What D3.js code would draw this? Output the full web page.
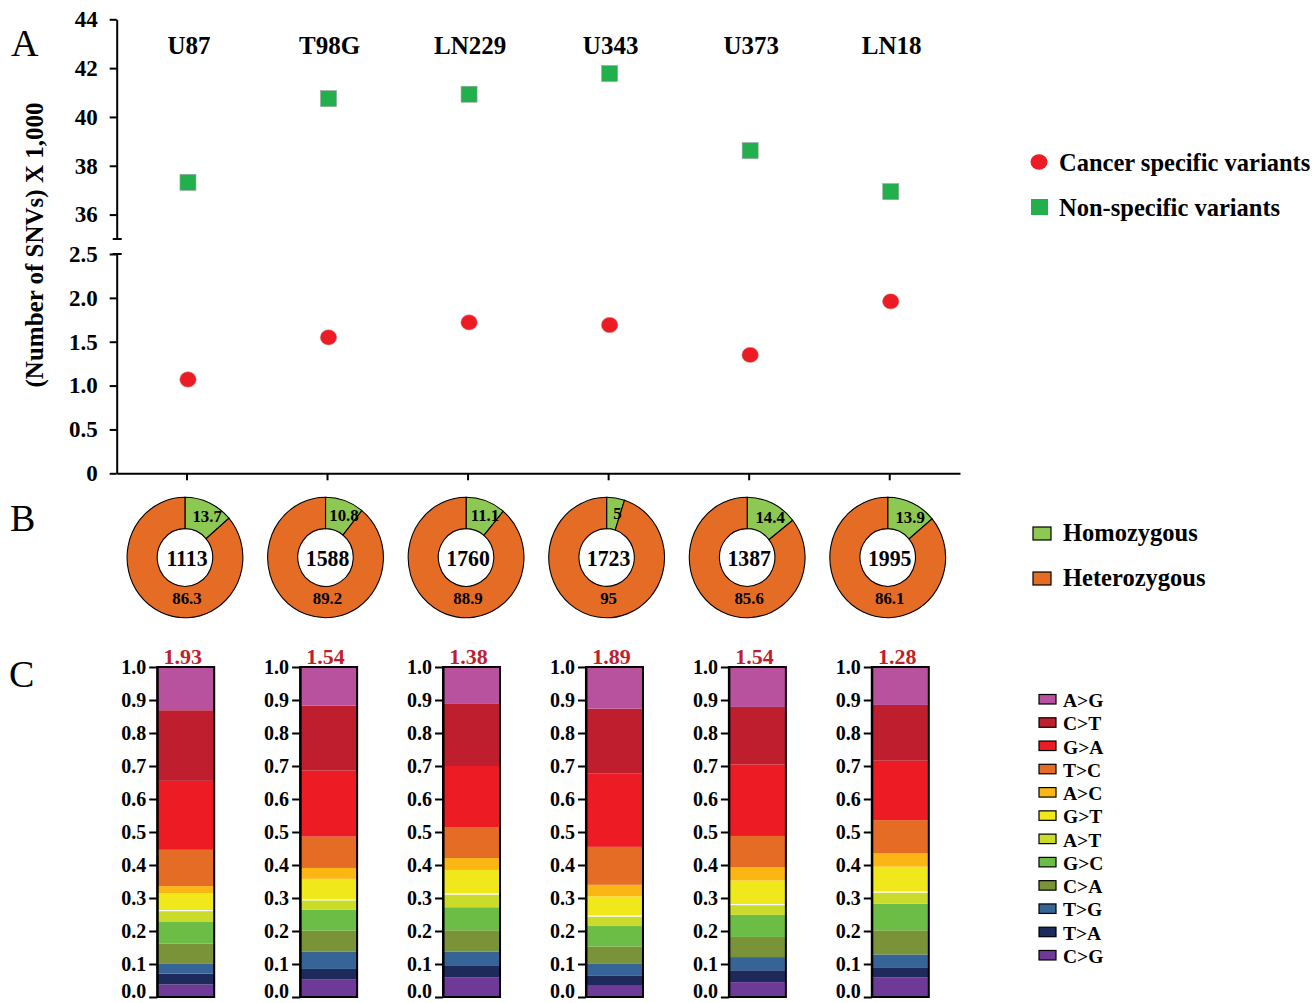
<!DOCTYPE html>
<html>
<head>
<meta charset="utf-8">
<script src="https://cdn.jsdelivr.net/npm/d3@7"></script>
<style>
  html, body { margin: 0; padding: 0; background: #fff; }
  svg text { font-family: "Liberation Serif", "Times New Roman", serif; }
</style>
</head>
<body>
<svg id="fig" width="1315" height="1003"></svg>
<script>
// ---- data ----
const cellLines = ["U87", "T98G", "LN229", "U343", "U373", "LN18"];

// Panel A: SNV counts (x 1,000)
const nonSpecific = [37.32, 40.75, 40.93, 41.78, 38.62, 36.94];
const cancerSpecific = [1.07, 1.55, 1.72, 1.69, 1.35, 1.96];
const upperTicks = [36, 38, 40, 42, 44];
const lowerTicks = [0, 0.5, 1.0, 1.5, 2.0, 2.5];

// Panel B: zygosity of cancer-specific variants (%)
const variantTotals = [1113, 1588, 1760, 1723, 1387, 1995];
const homozygousPct = [13.7, 10.8, 11.1, 5, 14.4, 13.9];
const heterozygousPct = [86.3, 89.2, 88.9, 95, 85.6, 86.1];

// Panel C: substitution spectrum (fractions), transition/transversion ratios
const ratioLabels = ["1.93", "1.54", "1.38", "1.89", "1.54", "1.28"];
const substitutions = ["A>G", "C>T", "G>A", "T>C", "A>C", "G>T", "A>T", "G>C", "C>A", "T>G", "T>A", "C>G"];
const fracAG = [0.131, 0.117, 0.110, 0.126, 0.121, 0.115];
const fracCT = [0.214, 0.197, 0.190, 0.196, 0.174, 0.169];
const fracGA = [0.209, 0.200, 0.185, 0.223, 0.217, 0.180];
const fracTC = [0.110, 0.095, 0.094, 0.115, 0.095, 0.101];
const fracAC = [0.021, 0.033, 0.036, 0.035, 0.040, 0.040];
const fracGT = [0.053, 0.064, 0.073, 0.060, 0.073, 0.077];
const fracAT = [0.033, 0.029, 0.040, 0.030, 0.031, 0.035];
const fracGC = [0.067, 0.064, 0.070, 0.062, 0.067, 0.081];
const fracCA = [0.060, 0.064, 0.064, 0.051, 0.061, 0.073];
const fracTG = [0.031, 0.052, 0.044, 0.038, 0.040, 0.041];
const fracTA = [0.033, 0.031, 0.034, 0.030, 0.036, 0.029];
const fracCG = [0.038, 0.054, 0.060, 0.034, 0.045, 0.059];
const fractionSeries = [fracAG, fracCT, fracGA, fracTC, fracAC, fracGT, fracAT, fracGC, fracCA, fracTG, fracTA, fracCG];
const cTicks = [0, 0.1, 0.2, 0.3, 0.4, 0.5, 0.6, 0.7, 0.8, 0.9, 1.0];

const subColors = {
  "A>G": "#b9529e", "C>T": "#be1e2d", "G>A": "#ed1c24", "T>C": "#e46c25",
  "A>C": "#fbb614", "G>T": "#f1e81b", "A>T": "#cbdb2a", "G>C": "#6bbd45",
  "C>A": "#7a9339", "T>G": "#376497", "T>A": "#1e2a5c", "C>G": "#6f3997"
};
const RED = "#ed1c24", GREEN = "#21b04b";
const HOMO = "#8dc853", HETERO = "#e46c25";

const svg = d3.select("#fig");

// ---- panel letters ----
svg.append("text").attr("x", 11).attr("y", 56).attr("font-size", 38).text("A");
svg.append("text").attr("x", 10).attr("y", 531).attr("font-size", 38).text("B");
svg.append("text").attr("x", 9).attr("y", 687).attr("font-size", 38).text("C");

// ---- Panel A: broken-axis dot plot ----
const axisX = 116.7;
const x = d3.scaleBand().domain(cellLines).range([axisX, 960]);
const cx = d => x(d) + x.bandwidth() / 2;
const yUp = d3.scaleLinear().domain([35, 44]).range([239, 19.3]);
const yLo = d3.scaleLinear().domain([0, 2.5]).range([473.3, 254]);

function styleAxis(g, fs) {
  g.selectAll("path.domain").attr("stroke", "#000").attr("stroke-width", 2);
  g.selectAll(".tick line").attr("stroke", "#000").attr("stroke-width", 2);
  g.selectAll(".tick text").attr("fill", "#000").attr("font-size", fs)
    .attr("font-weight", "bold").attr("font-family", "Liberation Serif, serif");
}

const gUp = svg.append("g").attr("transform", `translate(${axisX},0)`)
  .call(d3.axisLeft(yUp).tickValues(upperTicks).tickSize(7).tickPadding(12).tickSizeOuter(0));
styleAxis(gUp, 23);
const gLo = svg.append("g").attr("transform", `translate(${axisX},0)`)
  .call(d3.axisLeft(yLo).tickValues(lowerTicks).tickSize(7).tickPadding(12).tickSizeOuter(0)
    .tickFormat(d => d === 0 ? "0" : d3.format(".1f")(d)));
styleAxis(gLo, 23);

// break marks on the y axis
[yUp(35), yLo(2.5)].forEach(yy => {
  svg.append("line").attr("x1", axisX - 4).attr("x2", axisX + 5)
    .attr("y1", yy).attr("y2", yy).attr("stroke", "#000").attr("stroke-width", 2);
});

const gX = svg.append("g").attr("transform", `translate(0,${yLo(0)})`)
  .call(d3.axisBottom(x).tickSize(7).tickSizeOuter(0).tickFormat(""));
styleAxis(gX, 22);

// cell line names along the top
svg.append("g").selectAll("text").data(cellLines).join("text")
  .attr("x", d => cx(d) + 2).attr("y", 54)
  .attr("text-anchor", "middle").attr("font-size", 25).attr("font-weight", "bold")
  .text(d => d);

// y title
svg.append("text")
  .attr("transform", "translate(43,245) rotate(-90)")
  .attr("text-anchor", "middle").attr("font-size", 25).attr("font-weight", "bold")
  .text("(Number of SNVs) X 1,000");

// markers
svg.append("g").selectAll("rect").data(cellLines).join("rect")
  .attr("x", (d, i) => cx(d) + 1 - 8).attr("y", (d, i) => yUp(nonSpecific[i]) - 8)
  .attr("width", 16).attr("height", 16)
  .attr("fill", GREEN).attr("stroke", "#9aa39c").attr("stroke-width", 0.6);
svg.append("g").selectAll("ellipse").data(cellLines).join("ellipse")
  .attr("cx", d => cx(d) + 1).attr("cy", (d, i) => yLo(cancerSpecific[i]))
  .attr("rx", 8.3).attr("ry", 7.7)
  .attr("fill", RED).attr("stroke", "#c99").attr("stroke-width", 0.5);

// legend A
svg.append("ellipse").attr("cx", 1039).attr("cy", 162).attr("rx", 8.5).attr("ry", 7.8).attr("fill", RED);
svg.append("text").attr("x", 1059).attr("y", 171).attr("font-size", 24.5).attr("font-weight", "bold")
  .text("Cancer specific variants");
svg.append("rect").attr("x", 1031).attr("y", 199).attr("width", 17).attr("height", 16).attr("fill", GREEN);
svg.append("text").attr("x", 1059).attr("y", 216).attr("font-size", 24.5).attr("font-weight", "bold")
  .text("Non-specific variants");

// ---- Panel B: zygosity donuts ----
const pie = d3.pie().sort(null).value(d => d.v);
const arc = d3.arc().innerRadius(28).outerRadius(58.5);
const labelArc = d3.arc().innerRadius(44).outerRadius(44);
const donutY = 557.5;

cellLines.forEach((c, i) => {
  const g = svg.append("g").attr("transform", `translate(${cx(c) - 2},${donutY}) scale(0.99,1.03)`);
  const parts = pie([{ k: "homo", v: homozygousPct[i] }, { k: "hetero", v: heterozygousPct[i] }]);
  g.selectAll("path").data(parts).join("path")
    .attr("d", arc)
    .attr("fill", d => d.data.k === "homo" ? HOMO : HETERO)
    .attr("stroke", "#000").attr("stroke-width", 1.1);
  const homo = parts[0];
  const [lx, ly] = labelArc.centroid(homo);
  g.append("text").attr("x", lx + 4).attr("y", ly + 6)
    .attr("text-anchor", "middle").attr("font-size", 17).attr("font-weight", "bold")
    .text(homozygousPct[i]);
  g.append("text").attr("x", 2).attr("y", 45)
    .attr("text-anchor", "middle").attr("font-size", 17).attr("font-weight", "bold")
    .text(heterozygousPct[i]);
  g.append("text").attr("x", 2).attr("y", 8)
    .attr("text-anchor", "middle").attr("font-size", 22).attr("font-weight", "bold")
    .text(variantTotals[i]);
});

// legend B
[["Homozygous", HOMO, 527, 541], ["Heterozygous", HETERO, 572, 586]].forEach(([t, col, ry, ty]) => {
  svg.append("rect").attr("x", 1033).attr("y", ry).attr("width", 18).attr("height", 13)
    .attr("fill", col).attr("stroke", "#000").attr("stroke-width", 1.2);
  svg.append("text").attr("x", 1063).attr("y", ty).attr("font-size", 24.5).attr("font-weight", "bold").text(t);
});

// ---- Panel C: substitution spectra ----
const stackKeys = substitutions.slice().reverse();
const rows = cellLines.map((c, i) => {
  const r = { line: c };
  substitutions.forEach((s, k) => { r[s] = fractionSeries[k][i]; });
  return r;
});
const stacked = d3.stack().keys(stackKeys)(rows);

const xc = d3.scalePoint().domain(cellLines).range([185.7, 900.3]);
const yc = d3.scaleLinear().domain([0, 1]).range([997, 667]);
const barW = 57;

stacked.forEach(layer => {
  svg.append("g").selectAll("rect").data(layer).join("rect")
    .attr("x", d => xc(d.data.line) - barW / 2)
    .attr("y", d => yc(d[1]))
    .attr("width", barW)
    .attr("height", d => yc(d[0]) - yc(d[1]))
    .attr("fill", subColors[layer.key]);
});
// thin white seam below the G>T block
const gtLayer = stacked.find(l => l.key === "G>T");
svg.append("g").selectAll("line").data(gtLayer).join("line")
  .attr("x1", d => xc(d.data.line) - barW / 2).attr("x2", d => xc(d.data.line) + barW / 2)
  .attr("y1", d => yc(d[0])).attr("y2", d => yc(d[0]))
  .attr("stroke", "#fff").attr("stroke-width", 1.2);

cellLines.forEach((c, i) => {
  const left = xc(c) - barW / 2;
  svg.append("rect").attr("x", left).attr("y", yc(1)).attr("width", barW).attr("height", yc(0) - yc(1))
    .attr("fill", "none").attr("stroke", "#000").attr("stroke-width", 2);
  const ga = svg.append("g").attr("transform", `translate(${left},0)`)
    .call(d3.axisLeft(yc).tickValues(cTicks).tickSize(8).tickPadding(3).tickSizeOuter(0)
      .tickFormat(d3.format(".1f")));
  styleAxis(ga, 20);
  // keep the bottom label inside the page edge
  ga.selectAll(".tick text").filter(d => d === 0).attr("dy", "0.02em");
  svg.append("text").attr("x", xc(c) - 3).attr("y", 664)
    .attr("text-anchor", "middle").attr("font-size", 22).attr("font-weight", "bold")
    .attr("fill", "#be1e2d").text(ratioLabels[i]);
});

// legend C
const lg = svg.append("g");
substitutions.forEach((s, k) => {
  const yy = 707 + k * 23.27;
  lg.append("rect").attr("x", 1039).attr("y", yy - 12.5).attr("width", 17).attr("height", 9.5)
    .attr("fill", subColors[s]).attr("stroke", "#000").attr("stroke-width", 1.2);
  lg.append("text").attr("x", 1063).attr("y", yy).attr("font-size", 19.5).attr("font-weight", "bold").text(s);
});
</script>
</body>
</html>
